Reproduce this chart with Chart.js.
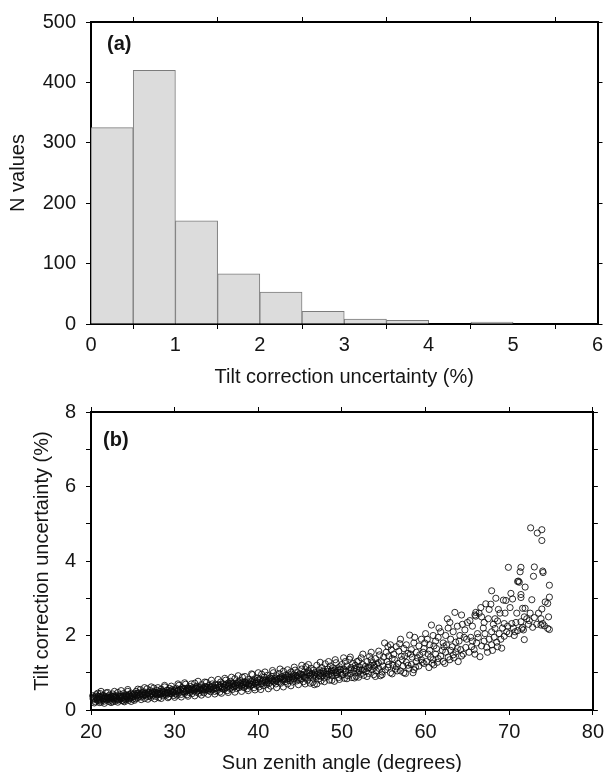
<!DOCTYPE html>
<html>
<head>
<meta charset="utf-8">
<script src="https://cdn.jsdelivr.net/npm/chart.js@4.4.0/dist/chart.umd.min.js"></script>
<style>
  html, body { margin: 0; padding: 0; background: #fff; overflow: hidden; width: 609px; height: 772px; }
  canvas { position: absolute; left: 0; }
  #ca { top: 0; }
  #cb { top: 390px; }
</style>
</head>
<body>
<canvas id="ca" width="609" height="390"></canvas>
<canvas id="cb" width="609" height="390"></canvas>
<script>
// ---------- Panel (a): histogram ----------
const binLeftEdges = [0, 0.5, 1, 1.5, 2, 2.5, 3, 3.5, 4, 4.5, 5, 5.5];
const binWidth = 0.5;
const binCounts = [325, 420, 171, 83, 53, 21, 8, 6, 0, 3, 0, 0];
const xTicksA = [0, 1, 2, 3, 4, 5, 6];
const yTicksA = [0, 100, 200, 300, 400, 500];

// ---------- Panel (b): scatter ----------
const xTicksB = [20, 30, 40, 50, 60, 70, 80];
const yTicksB = [0, 1, 2, 3, 4, 5, 6, 7, 8];
const yTickLabelsB = ['0', '', '2', '', '4', '', '6', '', '8'];
// [sun zenith angle (deg), tilt correction uncertainty (%)]
const scatterPoints = [
[20.3,0.27],[20.4,0.34],[20.5,0.22],[20.6,0.41],[20.7,0.3],[20.8,0.25],[20.9,0.37],[21.0,0.29],[21.1,0.44],[21.2,0.21],[21.3,0.33],[21.4,0.27],[21.5,0.39],[21.6,0.24],[21.7,0.31],[21.8,0.46],[21.9,0.28],[22.0,0.35],[22.1,0.23],[22.2,0.4],[22.3,0.3],[22.4,0.26],[22.5,0.37],[22.6,0.43],[22.7,0.29],[22.8,0.33],[22.9,0.24],[23.0,0.38],[23.1,0.31],[23.2,0.47],[23.3,0.27],[23.4,0.35],[23.5,0.41],[23.6,0.3],[23.7,0.25],[23.8,0.37],[23.9,0.44],[24.0,0.32],[24.1,0.28],[24.2,0.4],[24.3,0.35],[24.4,0.5],[24.5,0.26],[24.6,0.38],[24.7,0.31],[24.8,0.45],[24.9,0.34],[25.0,0.29],
[20.35,0.31],[20.55,0.36],[20.75,0.28],[20.95,0.33],[21.15,0.26],[21.35,0.38],[21.55,0.3],[21.75,0.36],[21.95,0.32],[22.15,0.29],[22.35,0.34],[22.55,0.31],[22.75,0.38],[22.95,0.34],[23.15,0.27],[23.35,0.32],[23.55,0.36],[23.75,0.33],[23.95,0.29],[24.15,0.36],[24.35,0.3],[24.55,0.42],[24.75,0.37],[24.95,0.4],
[20.4,0.19],[20.8,0.45],[21.2,0.5],[21.6,0.18],[22.0,0.47],[22.4,0.2],[22.8,0.5],[23.2,0.21],[23.6,0.52],[24.0,0.22],[24.4,0.55],[24.8,0.23],[20.2,0.38],[21.0,0.2],[22.6,0.22],[23.9,0.24],
[20.25,0.3],[20.65,0.33],[21.05,0.36],[21.45,0.31],[21.85,0.35],[22.25,0.33],[22.65,0.36],[23.05,0.31],[23.45,0.37],[23.85,0.35],[24.25,0.38],[24.65,0.33],
[25.1,0.36],[25.2,0.44],[25.3,0.3],[25.4,0.5],[25.5,0.39],[25.6,0.33],[25.7,0.46],[25.8,0.41],[25.9,0.55],[26.0,0.35],[26.1,0.43],[26.2,0.38],[26.3,0.49],[26.4,0.31],[26.5,0.45],[26.6,0.4],[26.7,0.57],[26.8,0.36],[26.9,0.47],[27.0,0.42],[27.1,0.52],[27.2,0.34],[27.3,0.45],[27.4,0.4],[27.5,0.59],[27.6,0.48],[27.7,0.37],[27.8,0.43],[27.9,0.53],[28.0,0.46],[28.1,0.33],[28.2,0.5],[28.3,0.41],[28.4,0.56],[28.5,0.44],[28.6,0.38],[28.7,0.49],[28.8,0.62],[28.9,0.45],[29.0,0.4],[29.1,0.53],[29.2,0.47],[29.3,0.36],[29.4,0.58],[29.5,0.5],[29.6,0.43],[29.7,0.55],[29.8,0.48],[29.9,0.39],[30.0,0.52],
[25.25,0.4],[25.55,0.45],[25.85,0.38],[26.15,0.47],[26.45,0.41],[26.75,0.44],[27.05,0.38],[27.35,0.49],[27.65,0.43],[27.95,0.41],[28.25,0.45],[28.55,0.51],[28.85,0.42],[29.15,0.46],[29.45,0.44],[29.75,0.5],
[25.2,0.26],[25.6,0.56],[26.0,0.28],[26.4,0.6],[26.8,0.29],[27.2,0.62],[27.6,0.3],[28.0,0.6],[28.4,0.31],[28.8,0.66],[29.2,0.33],[29.6,0.64],[30.0,0.34],
[25.05,0.42],[25.45,0.37],[25.95,0.44],[26.35,0.4],[26.85,0.46],[27.25,0.43],[27.75,0.47],[28.15,0.44],[28.65,0.48],[29.05,0.45],[29.55,0.52],[29.95,0.47],
[30.1,0.44],[30.2,0.58],[30.3,0.4],[30.4,0.53],[30.5,0.66],[30.6,0.47],[30.7,0.55],[30.8,0.42],[30.9,0.6],[31.0,0.5],[31.1,0.57],[31.2,0.45],[31.3,0.69],[31.4,0.52],[31.5,0.41],[31.6,0.59],[31.7,0.54],[31.8,0.47],[31.9,0.63],[32.0,0.56],[32.1,0.44],[32.2,0.6],[32.3,0.51],[32.4,0.72],[32.5,0.57],[32.6,0.48],[32.7,0.64],[32.8,0.53],[32.9,0.45],[33.0,0.61],[33.1,0.56],[33.2,0.68],[33.3,0.5],[33.4,0.59],[33.5,0.46],[33.6,0.63],[33.7,0.55],[33.8,0.74],[33.9,0.6],[34.0,0.52],[34.1,0.66],[34.2,0.57],[34.3,0.49],[34.4,0.62],[34.5,0.7],[34.6,0.55],[34.7,0.6],[34.8,0.5],[34.9,0.67],[35.0,0.58],
[30.25,0.5],[30.65,0.55],[31.05,0.49],[31.45,0.56],[31.85,0.53],[32.25,0.55],[32.65,0.58],[33.05,0.52],[33.45,0.57],[33.85,0.55],[34.25,0.61],[34.65,0.58],
[30.4,0.7],[30.8,0.35],[31.2,0.73],[31.6,0.37],[32.0,0.7],[32.4,0.38],[32.8,0.77],[33.2,0.4],[33.6,0.75],[34.0,0.42],[34.4,0.8],[34.8,0.43],
[30.45,0.52],[30.95,0.55],[31.35,0.5],[31.75,0.58],[32.15,0.53],[32.55,0.6],[32.95,0.57],[33.35,0.54],[33.75,0.62],[34.15,0.56],[34.55,0.64],[34.95,0.6],
[35.1,0.52],[35.2,0.69],[35.3,0.6],[35.4,0.48],[35.5,0.75],[35.6,0.63],[35.7,0.57],[35.8,0.7],[35.9,0.55],[36.0,0.66],[36.1,0.8],[36.2,0.6],[36.3,0.52],[36.4,0.72],[36.5,0.64],[36.6,0.58],[36.7,0.77],[36.8,0.67],[36.9,0.55],[37.0,0.7],[37.1,0.62],[37.2,0.84],[37.3,0.66],[37.4,0.58],[37.5,0.73],[37.6,0.68],[37.7,0.6],[37.8,0.79],[37.9,0.71],[38.0,0.63],[38.1,0.88],[38.2,0.69],[38.3,0.6],[38.4,0.76],[38.5,0.66],[38.6,0.73],[38.7,0.57],[38.8,0.82],[38.9,0.7],[39.0,0.64],[39.1,0.78],[39.2,0.68],[39.3,0.95],[39.4,0.74],[39.5,0.6],[39.6,0.81],[39.7,0.71],[39.8,0.66],[39.9,0.86],[40.0,0.75],
[35.35,0.64],[35.75,0.62],[36.15,0.68],[36.55,0.7],[36.95,0.63],[37.35,0.72],[37.75,0.66],[38.15,0.74],[38.55,0.7],[38.95,0.73],[39.35,0.69],[39.75,0.76],
[35.2,0.82],[35.6,0.45],[36.0,0.85],[36.4,0.47],[36.8,0.88],[37.2,0.48],[37.6,0.92],[38.0,0.5],[38.4,0.9],[38.8,0.52],[39.2,0.97],[39.6,0.54],[40.0,1.0],
[35.45,0.66],[35.95,0.61],[36.45,0.67],[36.85,0.72],[37.25,0.65],[37.65,0.74],[38.05,0.68],[38.45,0.73],[38.85,0.67],[39.25,0.77],[39.65,0.72],[39.95,0.8],
[40.1,0.62],[40.2,0.83],[40.3,0.7],[40.4,0.96],[40.5,0.77],[40.6,0.65],[40.7,0.88],[40.8,0.74],[40.9,0.81],[41.0,0.68],[41.1,0.93],[41.2,0.79],[41.3,0.72],[41.4,0.86],[41.5,0.64],[41.6,0.9],[41.7,0.8],[41.8,1.0],[41.9,0.75],[42.0,0.84],[42.1,0.7],[42.2,0.92],[42.3,0.82],[42.4,0.76],[42.5,0.98],[42.6,0.87],[42.7,0.72],[42.8,0.9],[42.9,0.8],[43.0,1.04],[43.1,0.85],[43.2,0.76],[43.3,0.94],[43.4,0.83],[43.5,0.7],[43.6,0.97],[43.7,0.88],[43.8,0.79],[43.9,1.02],[44.0,0.9],[44.1,0.75],[44.2,0.95],[44.3,0.84],[44.4,1.07],[44.5,0.88],[44.6,0.78],[44.7,1.0],[44.8,0.92],[44.9,0.81],[45.0,0.97],
[40.45,0.72],[40.85,0.78],[41.25,0.84],[41.65,0.77],[42.05,0.8],[42.45,0.85],[42.85,0.83],[43.25,0.88],[43.65,0.84],[44.05,0.86],[44.45,0.93],[44.85,0.87],
[40.3,0.55],[40.8,1.02],[41.2,0.57],[41.7,1.06],[42.2,0.6],[42.6,1.1],[43.0,0.62],[43.5,1.08],[43.9,0.65],[44.3,1.15],[44.8,0.68],
[40.55,0.8],[41.05,0.74],[41.55,0.83],[42.15,0.78],[42.65,0.86],[43.15,0.81],[43.55,0.9],[44.15,0.83],[44.65,0.91],
[45.1,0.84],[45.2,1.1],[45.3,0.93],[45.4,0.76],[45.5,1.02],[45.6,0.88],[45.7,1.16],[45.8,0.95],[45.9,0.8],[46.0,1.05],[46.1,0.91],[46.2,0.72],[46.3,1.12],[46.4,0.97],[46.5,0.86],[46.6,1.07],[46.7,0.68],[46.8,1.0],[46.9,0.9],[47.0,1.2],[47.1,0.96],[47.2,0.83],[47.3,1.08],[47.4,0.99],[47.5,0.78],[47.6,1.14],[47.7,0.93],[47.8,1.03],[47.9,0.86],[48.0,1.24],[48.1,1.0],[48.2,0.9],[48.3,1.1],[48.4,0.96],[48.5,0.8],[48.6,1.18],[48.7,1.04],[48.8,0.92],[48.9,1.13],[49.0,0.99],[49.1,0.77],[49.2,1.08],[49.3,1.27],[49.4,0.95],[49.5,1.06],[49.6,0.87],[49.7,1.16],[49.8,1.01],[49.9,0.93],[50.0,1.22],
[45.45,0.9],[45.85,0.99],[46.25,0.94],[46.65,0.92],[47.05,1.01],[47.45,0.9],[47.85,0.97],[48.25,1.04],[48.65,0.98],[49.05,1.05],[49.45,1.0],[49.85,1.08],
[45.2,1.2],[45.6,0.7],[46.0,1.22],[46.5,0.74],[47.0,0.7],[47.4,1.28],[47.9,0.76],[48.4,1.3],[48.8,0.8],[49.2,1.35],[49.7,0.82],
[45.15,0.95],[45.65,0.86],[46.15,1.0],[46.75,0.95],[47.25,0.92],[47.75,1.05],[48.15,0.96],[48.75,1.07],[49.25,1.0],[49.75,1.1],
[50.1,0.95],[50.2,1.1],[50.3,0.85],[50.4,1.3],[50.5,1.02],[50.6,1.18],[50.7,0.92],[50.8,1.08],[50.9,1.36],[51.0,0.98],[51.1,1.14],[51.2,0.87],[51.3,1.25],[51.4,1.05],[51.6,1.2],[51.7,0.9],[51.8,1.1],[51.9,1.0],[52.0,1.32],[52.1,1.15],[52.2,0.96],[52.3,1.4],[52.4,1.07],[52.5,1.22],[52.6,0.93],[52.8,1.17],[52.9,1.03],[53.0,1.3],[53.1,1.12],[53.2,0.98],[53.3,1.44],[53.4,1.2],[53.6,1.08],[53.7,1.27],[53.8,0.95],[53.9,1.15],[54.0,1.38],[54.1,1.05],[54.2,1.23],[54.4,1.12],[54.5,1.48],[54.6,0.92],[54.7,1.3],[54.8,1.02],[54.9,1.18],[55.0,1.42],
[50.45,1.05],[51.05,1.08],[51.55,1.12],[52.05,1.06],[52.65,1.1],[53.25,1.14],[53.85,1.2],[54.35,1.27],
[50.2,1.4],[50.6,0.84],[51.0,1.42],[51.5,0.86],[52.0,0.88],[52.5,1.5],[53.0,0.9],[53.5,1.55],[54.0,0.9],[54.4,1.58],[54.8,0.95],[51.8,1.3],[53.5,1.35],
[55.2,1.08],[55.5,1.15],[55.8,1.0],[56.1,1.2],[56.4,1.1],[56.7,1.25],[57.0,1.05],[57.3,1.18],[57.4,1.0],[57.7,1.28],[58.0,1.12],[58.3,1.22],[58.6,1.08],[58.9,1.3],[59.2,1.18],[59.5,1.35],[59.8,1.25],[55.6,1.22],[56.5,1.16],[57.9,1.2],[58.8,1.15],[59.6,1.28],[56.0,0.97],[57.6,0.98],
[55.1,1.8],[55.3,1.55],[55.6,1.45],[55.9,1.62],[56.2,1.5],[56.5,1.7],[56.8,1.58],[57.1,1.44],[57.4,1.65],[57.7,1.75],[57.9,1.52],[58.1,2.01],[58.3,1.62],[58.6,1.8],[58.9,1.55],[59.2,1.72],[59.5,1.9],[59.8,1.65],[56.0,1.38],[57.2,1.35],[58.4,1.42],[59.3,1.48],[55.5,1.7],[56.9,1.78],
[55.4,1.3],[56.3,1.35],[57.5,1.45],[58.2,1.5],[59.0,1.4],[59.7,1.55],[55.8,1.75],[57.0,1.9],[58.7,1.95],[59.9,1.8],[56.6,1.05],[58.5,1.0],
[60.1,1.3],[60.4,1.14],[60.6,1.42],[60.9,1.35],[61.0,1.21],[61.2,1.5],[61.5,1.38],[61.8,1.45],[62.1,1.3],[62.4,1.55],[62.7,1.42],[63.0,1.6],[63.3,1.48],[63.6,1.56],[63.9,1.3],[64.2,1.62],[64.5,1.5],[64.8,1.68],[61.4,1.28],[62.9,1.35],[63.8,1.65],[64.3,1.45],[60.3,1.5],[62.0,1.6],
[60.2,1.9],[60.5,1.75],[60.7,2.28],[60.9,2.0],[61.2,1.85],[61.5,1.95],[61.8,2.1],[62.1,1.8],[62.4,2.0],[62.7,2.2],[63.0,1.9],[63.3,2.1],[63.5,2.62],[63.8,2.25],[64.1,2.0],[64.4,2.3],[64.7,2.15],[65.0,2.35],[61.0,1.72],[62.2,1.7],[63.6,1.82],[64.6,1.95],[60.0,2.05],[62.9,2.35],
[60.5,1.6],[61.3,1.65],[62.5,1.75],[63.2,1.7],[64.0,1.85],[64.9,1.9],[61.6,2.2],[62.6,2.45],[64.3,2.55],[60.8,1.25],[62.3,1.25],[63.4,1.4],
[65.2,1.55],[65.5,1.7],[65.8,1.62],[66.1,1.8],[66.5,1.43],[66.7,1.72],[67.0,1.85],[67.3,1.68],[67.6,1.9],[67.9,1.75],[68.2,1.95],[68.5,1.82],[68.8,2.05],[69.1,1.66],[69.4,1.98],[69.7,2.1],[66.3,1.95],[68.0,1.6],[65.6,1.85],[69.0,1.9],
[65.3,2.4],[65.6,2.25],[65.9,2.55],[66.0,2.62],[66.4,2.6],[66.7,2.5],[67.0,2.35],[67.2,2.85],[67.6,2.7],[67.9,3.2],[67.8,2.84],[68.3,2.45],[68.6,2.39],[68.7,2.7],[68.9,2.6],[69.3,2.95],[69.4,2.32],[69.6,2.94],[69.9,3.83],[66.0,2.52],[67.5,2.45],[68.3,2.19],[67.9,2.1],[66.9,2.2],
[65.4,1.95],[66.2,2.05],[67.1,2.05],[68.1,2.3],[69.2,2.2],[65.9,1.5],[67.4,1.55],[68.6,1.7],[69.8,2.25],[66.6,2.75],[68.4,3.0],[69.5,2.6],
[70.2,3.13],[70.4,2.98],[70.3,2.32],[71.4,3.83],[71.3,3.71],[73.0,3.84],[74.0,3.73],[74.05,3.69],[72.9,3.59],[71.0,3.45],[71.2,3.43],[71.1,3.46],[74.8,3.35],[71.4,3.1],[71.4,3.02],[72.7,2.96],[74.8,3.03],[74.6,2.86],[73.9,2.71],[71.6,2.73],[71.9,2.73],[72.1,2.45],[71.8,2.5],[73.0,2.48],[73.8,2.45],[74.7,2.5],[71.4,2.37],[71.5,2.18],[71.7,2.15],[71.6,2.22],[71.0,2.13],[72.8,2.22],[74.0,2.32],[73.8,2.28],[74.2,2.26],[74.6,2.19],[74.8,2.16],[71.8,1.89],[72.56,4.89],[73.35,4.75],[73.9,4.84],[73.9,4.55],[70.0,2.05],[70.5,2.2],[70.8,2.35],[70.6,2.0],[72.3,2.3],[72.5,2.6],[73.5,2.6],[74.3,2.9],[70.9,2.6],[71.9,3.3],[70.1,2.75],[72.4,2.4],[73.3,2.3],[70.7,2.1]
];

// ---------- common styling ----------
const FONT = "'Liberation Sans', Arial, Helvetica, sans-serif";
Chart.defaults.font.family = FONT;
Chart.defaults.font.size = 20;
Chart.defaults.color = '#151515';

const panelLabel = {
  id: 'panelLabel',
  afterDraw(chart, args, opts) {
    const { ctx, chartArea } = chart;
    ctx.save();
    ctx.font = 'bold 20px ' + FONT;
    ctx.fillStyle = '#151515';
    ctx.textBaseline = 'middle';
    ctx.textAlign = 'left';
    ctx.fillText(opts.text, chartArea.left + opts.dx, chartArea.top + opts.dy);
    ctx.restore();
  }
};

function tickSetter(values) {
  return function (scale) { scale.ticks = values.map(v => ({ value: v })); };
}
const gridOpts = { drawOnChartArea: false, drawTicks: true, tickLength: 5, tickWidth: 1, tickColor: '#000' };
const borderOpts = { display: true, width: 2, color: '#000' };

function axes(cfg) {
  return {
    x: {
      type: 'linear', position: 'bottom', min: cfg.xmin, max: cfg.xmax, offset: false, z: 1,
      afterBuildTicks: tickSetter(cfg.xticks),
      afterFit: s => { s.height = cfg.xAxisHeight; },
      grid: gridOpts, border: borderOpts,
      ticks: { padding: cfg.xTickPad, maxRotation: 0, autoSkip: false, color: '#151515', callback: cfg.xcb || (v => String(v)) },
      title: { display: true, text: cfg.xtitle, padding: { top: 0, bottom: cfg.xTitlePadBottom }, color: '#151515' }
    },
    y: {
      type: 'linear', position: 'left', min: cfg.ymin, max: cfg.ymax, z: 1,
      afterBuildTicks: tickSetter(cfg.yticks),
      afterFit: s => { s.width = 91; },
      grid: gridOpts, border: borderOpts,
      ticks: { padding: 10, autoSkip: false, color: '#151515', callback: cfg.ycb || (v => String(v)) },
      title: { display: true, text: cfg.ytitle, padding: { top: cfg.yTitlePadTop, bottom: 0 }, color: '#151515' }
    },
    x2: {
      type: 'linear', position: 'top', min: cfg.xmin, max: cfg.xmax, offset: false, z: 1,
      afterBuildTicks: tickSetter(cfg.xticks),
      afterFit: s => { s.height = 14; },
      grid: gridOpts, border: borderOpts,
      ticks: { display: false }
    },
    y2: {
      type: 'linear', position: 'right', min: cfg.ymin, max: cfg.ymax, z: 1,
      afterBuildTicks: tickSetter(cfg.yticks),
      afterFit: s => { s.width = 11.5; },
      grid: gridOpts, border: borderOpts,
      ticks: { display: false }
    }
  };
}

// ---------- chart (a) ----------
new Chart(document.getElementById('ca'), {
  type: 'bar',
  data: {
    datasets: [{
      data: binLeftEdges.map((e, i) => ({ x: e + binWidth / 2, y: binCounts[i] })),
      backgroundColor: '#dcdcdc',
      borderColor: '#7c7c7c',
      borderWidth: 1,
      borderSkipped: 'start',
      barPercentage: 1,
      categoryPercentage: 1,
      grouped: false
    }]
  },
  options: {
    responsive: false, animation: false,
    layout: { padding: { top: 6, right: 0, bottom: 0, left: 0 } },
    plugins: { legend: { display: false }, tooltip: { enabled: false }, panelLabel: { text: '(a)', dx: 16, dy: 22 } },
    scales: axes({
      xmin: 0, xmax: 6, ymin: 0, ymax: 500, xticks: xTicksA, yticks: yTicksA,
      xAxisHeight: 66, xTickPad: 4, xTitlePadBottom: 1, yTitlePadTop: 6,
      xtitle: 'Tilt correction uncertainty (%)', ytitle: 'N values'
    })
  },
  plugins: [panelLabel]
});

// ---------- chart (b) ----------
new Chart(document.getElementById('cb'), {
  type: 'scatter',
  data: {
    datasets: [{
      data: scatterPoints.map(p => ({ x: p[0], y: p[1] })),
      pointStyle: 'circle',
      pointRadius: 3.1,
      pointBorderWidth: 1,
      pointBackgroundColor: 'rgba(0,0,0,0)',
      pointBorderColor: 'rgba(10,10,10,0.85)',
      showLine: false,
      clip: false
    }]
  },
  options: {
    responsive: false, animation: false,
    layout: { padding: { top: 2, right: 0, bottom: 0, left: 0 } },
    plugins: { legend: { display: false }, tooltip: { enabled: false }, panelLabel: { text: '(b)', dx: 12, dy: 28 } },
    scales: axes({
      xmin: 20, xmax: 80, ymin: 0, ymax: 8, xticks: xTicksB, yticks: yTicksB,
      xAxisHeight: 70, xTickPad: 5, xTitlePadBottom: 5, yTitlePadTop: 30,
      xtitle: 'Sun zenith angle (degrees)', ytitle: 'Tilt correction uncertainty (%)',
      ycb: (v) => { const i = yTicksB.indexOf(v); return i >= 0 ? yTickLabelsB[i] : ''; }
    })
  },
  plugins: [panelLabel]
});
</script>
</body>
</html>
